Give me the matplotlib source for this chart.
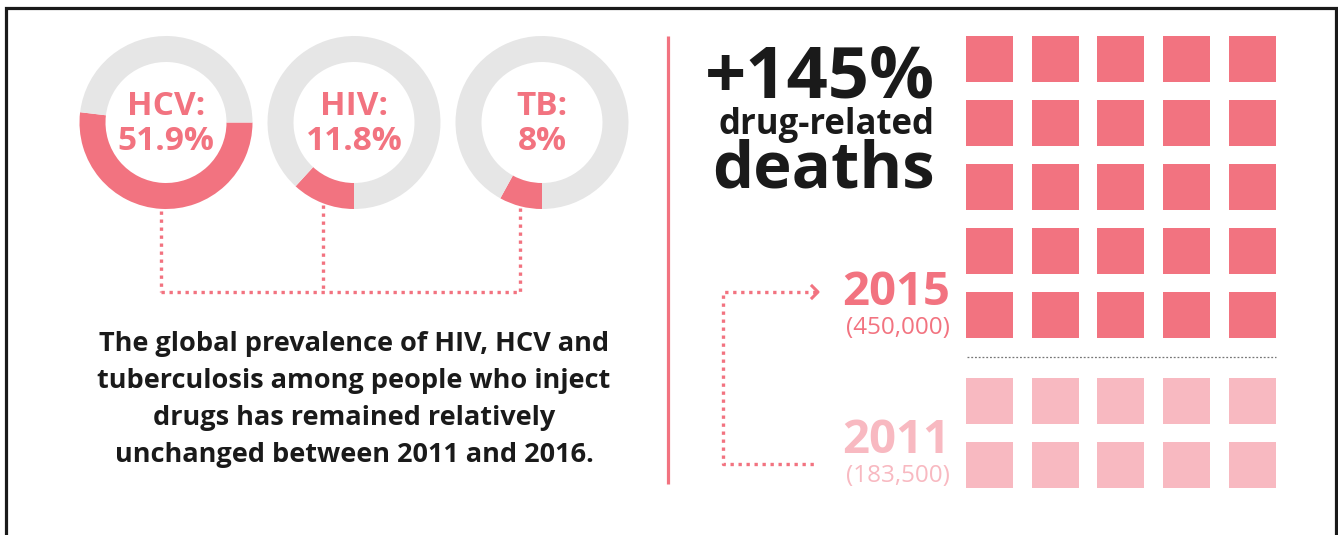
import matplotlib
matplotlib.use("Agg")
import numpy as np
import matplotlib.pyplot as plt
from matplotlib.patches import Rectangle

# ----------
# DONNEES

diseases = ["HCV", "HIV", "TB"]
prevalence = [51.9, 11.8, 8]          # % among people who inject drugs
paragraph = ["The global prevalence of HIV, HCV and",
             "tuberculosis among people who inject",
             "drugs has remained relatively",
             "unchanged between 2011 and 2016."]

increase = "+145%"
years = ["2015", "2011"]
deaths = [450000, 183500]
squares = [25, 10]                    # one square ~ 18,350 deaths

# ----------
# STYLE

W, H = 1338, 535
PINK = "#F27380"
LIGHT = "#F8B9C1"
GREY = "#E6E6E6"
INK = "#1A1A1A"
FONT = "Open Sans"
start_angles = [0, -90, -90]
centers_x = [166, 354, 542]
cy, r_out, ring = 122.5, 86.5, 26

fig = plt.figure(figsize=(W / 100, H / 100), dpi=100)
ax = fig.add_axes([0, 0, 1, 1])
ax.set_xlim(0, W)
ax.set_ylim(H, 0)
ax.axis("off")

# cadre
ax.plot([5.5, 5.5, 1336, 1336], [H + 5, 8, 8, H + 5], color=INK, lw=2.3,
        solid_joinstyle="miter")

dotted = dict(color=PINK, lw=2.4, linestyle=(0, (1, 1.4)), dash_capstyle="butt")

# donuts
link_x = []
for name, p, cx, a0 in zip(diseases, prevalence, centers_x, start_angles):
    pax = fig.add_axes([(cx - r_out) / W, 1 - (cy + r_out) / H,
                        2 * r_out / W, 2 * r_out / H])
    pax.pie([p, 100 - p], colors=[PINK, GREY], startangle=a0, counterclock=False,
            radius=1, wedgeprops=dict(width=ring / r_out, linewidth=0))
    pax.set_xlim(-1, 1)
    pax.set_ylim(-1, 1)
    pax.axis("off")
    ax.text(cx, 115, f"{name}:", ha="center", va="baseline", color=PINK,
            fontsize=24, fontweight="bold", family=FONT)
    ax.text(cx, 150, f"{p:g}%", ha="center", va="baseline", color=PINK,
            fontsize=24, fontweight="bold", family=FONT)
    # point de depart du trait : milieu de l'arc rose
    mid = np.radians(a0 - 3.6 * p / 2)
    x0 = cx + r_out * np.cos(mid)
    y0 = cy - r_out * np.sin(mid)
    ax.plot([x0, x0], [y0 + 2, 292], **dotted)
    link_x.append(x0)
ax.plot([min(link_x), max(link_x)], [292, 292], **dotted)

for i, line in enumerate(paragraph):
    ax.text(354, 351 + 37 * i, line, ha="center", va="baseline", color=INK,
            fontsize=19.5, fontweight="bold", family=FONT)

# separateur vertical
ax.plot([667.5, 667.5], [36, 484], color=PINK, lw=2.3, solid_capstyle="butt")

# titre
ax.text(935, 98, increase, ha="right", va="baseline", color=INK,
        fontsize=52, fontweight="bold", family=FONT)
ax.text(935, 134, "drug-related", ha="right", va="baseline", color=INK,
        fontsize=25, fontweight="bold", family=FONT)
ax.text(935, 188, "deaths", ha="right", va="baseline", color=INK,
        fontsize=47, fontweight="bold", family=FONT)

# grille de carres
col_x = 966 + 65.7 * np.arange(5)
row_top = [36, 378]
for n, top, col in zip(squares, row_top, [PINK, LIGHT]):
    for k in range(n):
        rr, cc = divmod(k, 5)
        ax.add_patch(Rectangle((col_x[cc], top + 64 * rr), 47, 46,
                               facecolor=col, edgecolor="none"))
ax.plot([967, 1276], [357, 357], color="#777777", lw=0.9, linestyle=(0, (1.5, 1.5)))

# annees
for yr, d, col, yb in zip(years, deaths, [PINK, LIGHT], [305, 453]):
    ax.text(950, yb, yr, ha="right", va="baseline", color=col,
            fontsize=34, fontweight="bold", family=FONT)
    ax.text(950, yb + 29, f"({d:,})", ha="right", va="baseline", color=col,
            fontsize=17.5, family=FONT)

# fleche pointillee 2011 -> 2015
ax.plot([816, 723, 723, 818], [292, 292, 464, 464], **dotted)
ax.plot([812, 818, 812], [286, 292, 298], color=PINK, lw=2.2)

fig.savefig("out.png", dpi=100, facecolor="white")
